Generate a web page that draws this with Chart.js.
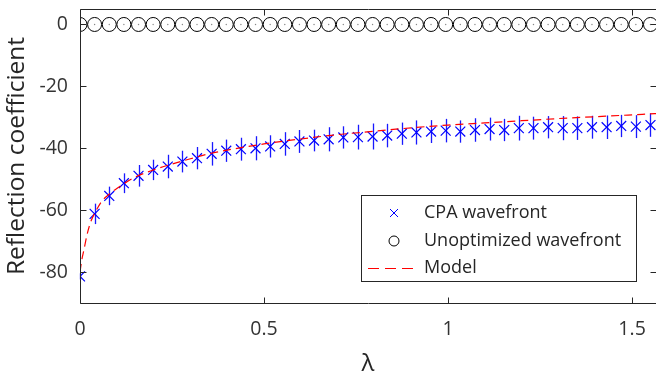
<!DOCTYPE html>
<html>
<head>
<meta charset="utf-8">
<script src="https://cdn.jsdelivr.net/npm/chart.js@4.4.1/dist/chart.umd.min.js"></script>
<style>
html,body{margin:0;padding:0;background:#fff;overflow:hidden;}
#wrap{position:relative;width:656px;height:372px;}
</style>
</head>
<body>
<div id="wrap"><canvas id="c" width="656" height="372"></canvas></div>
<script>
// ---- data ----
const lambda = [0, 0.0397, 0.0795, 0.1192, 0.1590, 0.1987, 0.2385, 0.2782, 0.3179, 0.3577,
  0.3974, 0.4372, 0.4769, 0.5167, 0.5564, 0.5962, 0.6359, 0.6756, 0.7154, 0.7551,
  0.7949, 0.8346, 0.8744, 0.9141, 0.9538, 0.9936, 1.0333, 1.0731, 1.1128, 1.1526,
  1.1923, 1.2321, 1.2718, 1.3115, 1.3513, 1.3910, 1.4308, 1.4705, 1.5103, 1.5500];
const cpaValues = [-81.4, -61.2, -55.4, -51.3, -48.9, -47.0, -45.9, -44.3, -43.2, -41.8,
  -40.8, -40.3, -40.0, -39.4, -38.6, -37.8, -37.5, -37.1, -36.5, -36.4,
  -36.2, -35.9, -35.3, -34.9, -34.6, -34.3, -34.6, -34.1, -33.8, -34.1,
  -33.5, -33.5, -33.2, -33.5, -33.5, -33.2, -33.2, -32.8, -33.0, -32.5];
const cpaErr = [1.0, 3.3, 3.0, 3.2, 3.5, 3.3, 3.8, 3.5, 3.6, 3.8,
  3.6, 3.7, 3.9, 3.6, 3.8, 3.7, 3.5, 3.9, 3.6, 4.0,
  4.2, 3.8, 3.6, 3.9, 3.7, 3.8, 3.6, 3.8, 3.7, 3.6,
  4.0, 3.7, 3.6, 3.9, 3.8, 3.7, 3.8, 3.6, 3.7, 3.8];
const unoptValues = [0,0,0,0,0,0,0,0,0,0, 0,0,0,0,0,0,0,0,0,0,
  0,0,0,0,0,0,0,0,0,0, 0,0,0,0,0,0,0,0,0,0];
const modelLambda = [0, 0.005, 0.01, 0.02, 0.03, 0.04, 0.06, 0.08, 0.10, 0.12, 0.15, 0.20,
  0.25, 0.30, 0.35, 0.40, 0.50, 0.60, 0.70, 0.80, 0.90, 1.00, 1.10, 1.20, 1.30, 1.40, 1.50, 1.565];
const modelValues = [-80, -76, -73.2, -67.5, -63.5, -61, -57, -54.8, -53, -51.4, -49.3, -47,
  -45.1, -43.4, -41.8, -40.6, -38.6, -37.0, -35.6, -34.5, -33.4, -32.5, -31.8, -31.1, -30.4, -29.8, -29.2, -28.8];
const xTicks = [0, 0.5, 1, 1.5];
const xTickLabels = ['0', '0.5', '1', '1.5'];
const yTicks = [-80, -60, -40, -20, 0];
const yTickLabels = ['-80', '-60', '-40', '-20', '0'];
const seriesNames = ['CPA wavefront', 'Unoptimized wavefront', 'Model'];

const FONT = "'Open Sans', 'Noto Sans', sans-serif";
const AXIS_COLOR = '#262626';

const pts = (xs, ys) => xs.map((x, i) => ({x: x, y: ys[i]}));

const errorBars = {
  id: 'errorBars',
  beforeDatasetsDraw(chart) {
    const ctx = chart.ctx, xs = chart.scales.x, ys = chart.scales.y;
    ctx.save();
    ctx.strokeStyle = 'rgba(0,0,255,0.9)';
    ctx.lineWidth = 1.3;
    lambda.forEach((l, i) => {
      const px = Math.round(xs.getPixelForValue(l)) + 0.5;
      ctx.beginPath();
      ctx.moveTo(px, ys.getPixelForValue(cpaValues[i] + cpaErr[i]));
      ctx.lineTo(px, ys.getPixelForValue(cpaValues[i] - cpaErr[i]));
      ctx.stroke();
    });
    ctx.restore();
  }
};

const frame = {
  id: 'frame',
  afterDraw(chart) {
    const ctx = chart.ctx, a = chart.chartArea, xs = chart.scales.x, ys = chart.scales.y;
    const L = a.left + 0.5, R = a.right + 0.5, T = a.top + 0.5, B = a.bottom + 0.5;
    ctx.save();
    ctx.strokeStyle = AXIS_COLOR;
    ctx.lineWidth = 1;
    ctx.beginPath();
    ctx.moveTo(L, T); ctx.lineTo(R, T); ctx.lineTo(R, B); ctx.lineTo(L, B); ctx.closePath();
    ctx.stroke();
    const tl = 6;
    ctx.beginPath();
    xTicks.forEach(v => {
      const px = Math.round(xs.getPixelForValue(v)) + 0.5;
      ctx.moveTo(px, B); ctx.lineTo(px, B - tl);
      ctx.moveTo(px, T); ctx.lineTo(px, T + tl);
    });
    yTicks.forEach(v => {
      const py = Math.round(ys.getPixelForValue(v)) + 0.5;
      ctx.moveTo(L, py); ctx.lineTo(L + tl, py);
      ctx.moveTo(R, py); ctx.lineTo(R - tl, py);
    });
    ctx.stroke();

    // legend
    const bx = 361.5, by = 195.5, bw = 275, bh = 86;
    ctx.fillStyle = '#fff';
    ctx.fillRect(bx, by, bw, bh);
    ctx.strokeStyle = AXIS_COLOR;
    ctx.strokeRect(bx, by, bw, bh);
    const rows = [213, 241, 268];
    const mx = 394;
    ctx.font = '18px ' + FONT;
    ctx.textBaseline = 'middle';
    ctx.textAlign = 'left';
    const entries = chart.data.datasets.filter(d => !d.hideInLegend)
      .sort((p, q) => seriesNames.indexOf(p.label) - seriesNames.indexOf(q.label));
    entries.forEach((d, i) => {
      const y = rows[i];
      ctx.save();
      if (d.legendKind === 'cross') {
        ctx.strokeStyle = d.borderColor; ctx.lineWidth = 1;
        const r = 4;
        ctx.beginPath();
        ctx.moveTo(mx - r, y - r); ctx.lineTo(mx + r, y + r);
        ctx.moveTo(mx + r, y - r); ctx.lineTo(mx - r, y + r);
        ctx.stroke();
      } else if (d.legendKind === 'circle') {
        ctx.strokeStyle = d.borderColor; ctx.lineWidth = 1;
        ctx.beginPath(); ctx.arc(mx, y, 5, 0, Math.PI * 2); ctx.stroke();
      } else {
        ctx.strokeStyle = d.borderColor; ctx.lineWidth = 1;
        ctx.setLineDash([11, 6]);
        ctx.beginPath(); ctx.moveTo(368, y + 0.5); ctx.lineTo(416, y + 0.5); ctx.stroke();
      }
      ctx.restore();
      ctx.fillStyle = AXIS_COLOR;
      ctx.fillText(d.label, 424, y);
    });
    ctx.restore();
  }
};

new Chart(document.getElementById('c'), {
  type: 'scatter',
  data: {
    datasets: [
      {
        label: seriesNames[2], data: pts(modelLambda, modelValues), showLine: true,
        borderColor: '#ff0000', borderWidth: 1.2, borderDash: [8, 5], pointRadius: 0,
        cubicInterpolationMode: 'monotone', order: 0, legendKind: 'line'
      },
      {
        label: seriesNames[0], data: pts(lambda, cpaValues), pointStyle: 'crossRot',
        pointRadius: 7, borderColor: '#0000ff', borderWidth: 1.2, backgroundColor: '#0000ff',
        order: 1, legendKind: 'cross'
      },
      {
        label: seriesNames[1], data: pts(lambda, unoptValues), pointStyle: 'circle',
        pointRadius: 7, borderColor: '#000000', borderWidth: 1, backgroundColor: 'rgba(0,0,0,0)',
        order: 2, legendKind: 'circle'
      },
      {
        label: 'dots', data: pts(lambda, unoptValues), pointStyle: 'circle', pointRadius: 0.7,
        borderWidth: 0, backgroundColor: '#888', order: 3, hideInLegend: true
      }
    ]
  },
  options: {
    responsive: false, animation: false,
    layout: {autoPadding: false, padding: {left: 0, top: 9, right: 0, bottom: 0}},
    plugins: {legend: {display: false}, tooltip: {enabled: false}},
    scales: {
      x: {
        type: 'linear', min: 0, max: 1.565,
        afterBuildTicks: s => { s.ticks = xTicks.map(v => ({value: v})); },
        afterFit: s => { s.height = 69; s.paddingLeft = 0; s.paddingRight = 0; },
        grid: {display: false, drawTicks: false}, border: {display: false},
        ticks: {
          callback: v => xTickLabels[xTicks.indexOf(v)], padding: 15, maxRotation: 0,
          color: '#333', font: {family: FONT, size: 19.5}
        },
        title: {display: true, text: 'λ', color: AXIS_COLOR, font: {family: FONT, size: 24},
          padding: {top: -7, bottom: -7}}
      },
      y: {
        type: 'linear', min: -90, max: 5,
        afterBuildTicks: s => { s.ticks = yTicks.map(v => ({value: v})); },
        afterFit: s => { s.width = 80; s.paddingTop = 0; s.paddingBottom = 0; },
        grid: {display: false, drawTicks: false}, border: {display: false},
        ticks: {
          callback: v => yTickLabels[yTicks.indexOf(v)], padding: 12,
          color: '#333', font: {family: FONT, size: 19.5}
        },
        title: {display: true, text: 'Reflection coefficient', color: AXIS_COLOR,
          font: {family: FONT, size: 24.5}, padding: {top: 2, bottom: 2}}
      }
    }
  },
  plugins: [errorBars, frame]
});
</script>
</body>
</html>
